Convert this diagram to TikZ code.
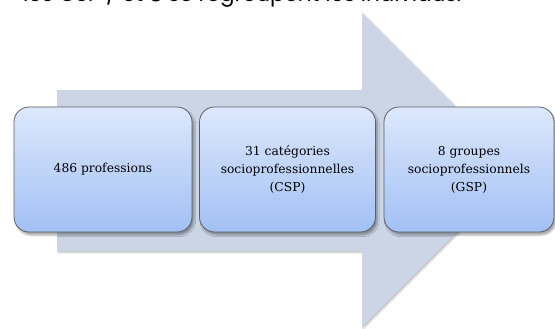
\documentclass[tikz,border=0pt]{standalone}
\usepackage{fontspec}
\newfontfamily\boxfont{DejaVu Serif}
\newfontfamily\topfont{Poppins}
\usetikzlibrary{shadows,shadows.blur}
\definecolor{arrowcol}{HTML}{CCD5E6}
\definecolor{boxtop}{HTML}{DDE8FC}
\definecolor{boxbot}{HTML}{A2C0F4}
\definecolor{boxline}{HTML}{5A5F68}
\tikzset{
  stagebox/.style={draw=boxline, line width=0.8pt, rounded corners=15pt,
    top color=boxtop, bottom color=boxbot, minimum height=125pt,
    align=center, inner sep=2pt,
    font=\boxfont\fontsize{12.3}{18}\selectfont,
    blur shadow={shadow xshift=2pt, shadow yshift=-3pt, shadow blur steps=6, shadow opacity=35}},
  bigarrow/.style={fill=arrowcol, draw=none,
    blur shadow={shadow xshift=1.5pt, shadow yshift=-1.5pt, shadow blur steps=5, shadow opacity=25}},
  toptext/.style={anchor=base west, inner sep=0pt, font=\topfont\fontsize{21.5}{24}\selectfont}
}
\begin{document}
\begin{tikzpicture}[x=1pt,y=-1pt]
\useasboundingbox (0,0) rectangle (555,329);
\begin{scope}
  \clip (0,0) rectangle (555,329);
  \node[toptext] (top) at (23,2) {les CSP / et 8 se regroupent les individus.};
  \path[bigarrow] (57,90) -- (362,90) -- (362,13) -- (519,170) -- (362,327) -- (362,251) -- (57,251) -- cycle;
  \node[stagebox, minimum width=178pt] (b1) at (103,169.5) {486 professions};
  \node[stagebox, minimum width=176pt] (b2) at (287.5,169.5) {31 catégories\\socioprofessionnelles\\(CSP)};
  \node[stagebox, minimum width=170pt] (b3) at (469,169.5) {8 groupes\\socioprofessionnels\\(GSP)};
\end{scope}
\end{tikzpicture}
\end{document}
